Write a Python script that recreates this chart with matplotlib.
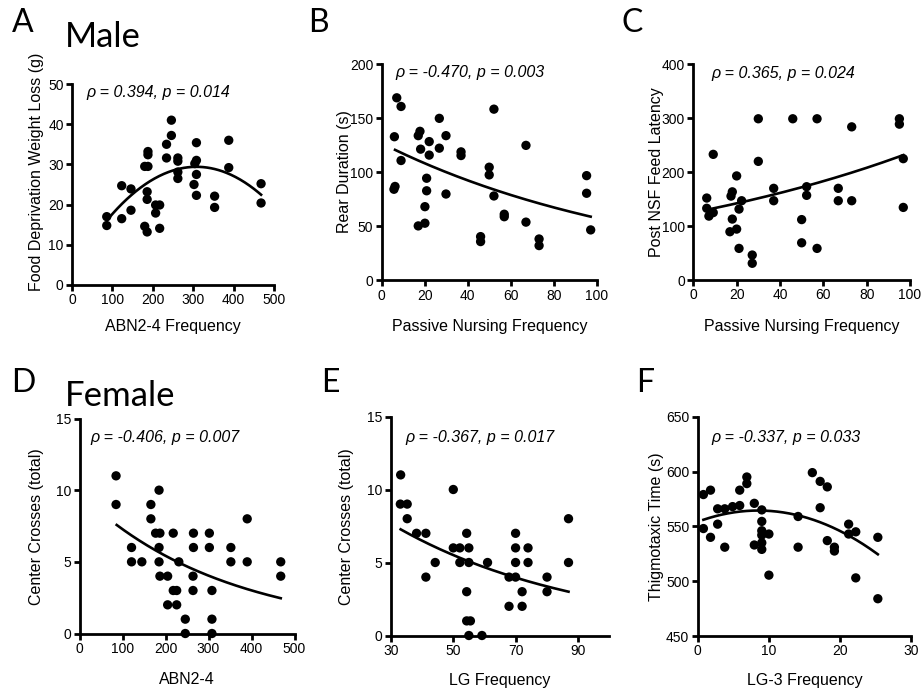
import numpy as np
import matplotlib
matplotlib.use('Agg')
import matplotlib.pyplot as plt

plt.rcParams['font.family'] = ['Liberation Sans', 'DejaVu Sans']

W, H = 924, 694

# ---- data ----
# A: male, ABN2-4 frequency vs food deprivation weight loss
a_x = [86, 86, 123, 123, 146, 146, 180, 188, 188, 188, 186, 186, 180, 186, 207, 217, 207, 217,
       246, 246, 234, 234, 262, 262, 262, 262, 308, 308, 304, 308, 302, 308, 353, 353, 388, 388, 468, 468]
a_y = [17, 14.8, 16.5, 24.7, 23.9, 18.6, 29.5, 29.5, 33.2, 32.4, 23.2, 21.3, 14.6, 13.2, 19.9, 19.9, 17.9, 14.1,
       41, 37.2, 35, 31.6, 31.6, 30.8, 28.1, 26.5, 35.4, 31, 30.2, 27.5, 25, 22.3, 22.1, 19.3, 36, 29.2, 25.2, 20.4]
a_fit = (-2.71e-4, 308, 29.4)      # quadratic: a, vertex x, vertex y
a_fit_range = (88, 468)

# B: passive nursing vs rear duration
b_x = [7, 9, 5.9, 9, 6.2, 5.7, 17.8, 17, 18.1, 22.1, 22.1, 26.8, 26.8, 29.9, 29.9, 20.9, 20.9, 20.1, 20.1,
       17, 36.9, 36.9, 46, 46, 50, 50, 52.2, 52.2, 57, 57, 67.1, 67.1, 73.2, 73.2, 95.3, 95.3, 97.2]
b_y = [169, 161, 133, 111, 87, 84.4, 138, 134, 121.5, 128.5, 116, 150, 122.4, 134, 80, 94.6, 83, 68.3, 53,
       50.5, 119, 115.6, 40.6, 36, 104.8, 97.7, 158.5, 78.2, 61.3, 59, 125, 54, 38.4, 32.3, 97, 80.7, 46.8]
b_fit = (126.9, -0.00787)          # exponential: A, k
b_fit_range = (6.2, 97.2)

# C: passive nursing vs post NSF feed latency
c_x = [30, 45.9, 57.1, 95.1, 95.1, 73.1, 9.2, 30, 96.9, 20, 6.2, 6.2, 7.2, 9.2, 18, 17.4, 22.3, 21.1,
       18, 20, 16.9, 21.1, 27.2, 27.2, 37.1, 37.1, 52.3, 52.3, 50, 50, 57.1, 66.9, 66.9, 73.1, 96.9]
c_y = [299, 299, 299, 299, 289, 284, 233, 220, 225, 193, 152, 133, 118.5, 125, 163.5, 155.6, 147, 131.5,
       113, 94.4, 89.5, 58.6, 46.3, 31, 170, 147, 173, 157, 112, 69, 58.6, 170, 147, 147, 134.6]
c_fit = (125.2, 0.00635)
c_fit_range = (7.7, 96.9)

# D: female, ABN2-4 vs center crosses
d_x = [85, 85, 121, 121, 145, 166, 166, 185, 177, 187, 185, 185, 187, 205, 218, 205, 218, 226, 226, 231,
       246, 246, 265, 265, 264, 264, 302, 302, 308, 308, 308, 352, 352, 390, 390, 468, 468]
d_y = [11, 9, 6, 5, 5, 9, 8, 10, 7, 7, 6, 5, 4, 4, 7, 2, 3, 3, 2, 5,
       1, 0, 7, 6, 4, 3, 7, 6, 3, 1, 0, 6, 5, 8, 5, 5, 4]
d_fit = (9.77, -0.002946)
d_fit_range = (86.5, 468)

# E: female, LG frequency vs center crosses
e_x = [33.1, 33, 35.2, 35.2, 38.2, 41.2, 41.2, 44.2, 50, 50, 52.1, 52.1, 54.3, 55, 55, 54.3, 54.3, 55.5,
       55, 59.2, 61, 67.9, 67.9, 70, 70, 70, 70, 72.1, 72.1, 74, 74, 80.1, 80.1, 87, 87]
e_y = [11, 9, 9, 8, 7, 7, 4, 5, 10, 6, 6, 5, 7, 6, 5, 3, 1, 1,
       0, 0, 5, 4, 2, 7, 6, 5, 4, 3, 2, 6, 5, 4, 3, 8, 5]
e_fit = (12.52, -0.01642)
e_fit_range = (33.1, 87)

# F: female, LG-3 frequency vs thigmotaxic time
f_x = [0.8, 0.8, 1.8, 1.8, 2.8, 2.8, 3.8, 3.8, 4.9, 5.9, 5.9, 6.9, 6.9, 7.95, 7.95, 9, 9, 9, 9, 9, 9,
       10, 10, 14.1, 14.1, 16.1, 17.2, 18.2, 17.2, 18.2, 19.2, 19.2, 21.2, 21.2, 22.2, 22.2, 25.3, 25.3]
f_y = [579, 548, 583, 540, 566, 552, 566, 531, 568, 569, 583, 595, 589, 571, 533, 565, 554.5, 546, 542, 535, 529,
       543, 505.5, 559, 531, 599, 591, 586, 567, 537, 531, 527.5, 552, 543, 545, 503, 540, 484]
f_fit = (-0.14166, 2.412, 554.16)  # quadratic: a, b, c
f_fit_range = (0.8, 25.3)


def quad_vertex(x, p):
    return p[2] + p[0] * (x - p[1]) ** 2

def expo(x, p):
    return p[0] * np.exp(p[1] * x)

def quad(x, p):
    return p[0] * x ** 2 + p[1] * x + p[2]


panels = [
    # letter, box (left, top, right, bottom in px), x, y, fit, fitfun, range, xlim, xticks, ylim, yticks, xlabel, ylabel, stats
    ('A', (72, 84, 274, 285), a_x, a_y, a_fit, quad_vertex, a_fit_range, (0, 500), range(0, 501, 100),
     (0, 50), range(0, 51, 10), 'ABN2-4 Frequency', 'Food Deprivation Weight Loss (g)',
     '\u03c1 = 0.394, p = 0.014', (86, 97)),
    ('B', (381.7, 64.3, 596.7, 280.5), b_x, b_y, b_fit, expo, b_fit_range, (0, 100), range(0, 101, 20),
     (0, 200), range(0, 201, 50), 'Passive Nursing Frequency', 'Rear Duration (s)',
     '\u03c1 = -0.470, p = 0.003', (395, 77)),
    ('C', (693.3, 64.3, 910, 280), c_x, c_y, c_fit, expo, c_fit_range, (0, 100), range(0, 101, 20),
     (0, 400), range(0, 401, 100), 'Passive Nursing Frequency', 'Post NSF Feed Latency',
     '\u03c1 = 0.365, p = 0.024', (711, 78)),
    ('D', (79.5, 418.5, 294.5, 633.5), d_x, d_y, d_fit, expo, d_fit_range, (0, 500), range(0, 501, 100),
     (0, 15), range(0, 16, 5), 'ABN2-4', 'Center Crosses (total)',
     '\u03c1 = -0.406, p = 0.007', (90, 442)),
    ('E', (391, 416.5, 609, 635.5), e_x, e_y, e_fit, expo, e_fit_range, (30, 100), range(30, 91, 20),
     (0, 15), range(0, 16, 5), 'LG Frequency', 'Center Crosses (total)',
     '\u03c1 = -0.367, p = 0.017', (405, 442)),
    ('F', (697.7, 416.7, 911.3, 636), f_x, f_y, f_fit, quad, f_fit_range, (0, 30), range(0, 31, 10),
     (450, 650), range(450, 651, 50), 'LG-3 Frequency', 'Thigmotaxic Time (s)',
     '\u03c1 = -0.337, p = 0.033', (711, 442)),
]

# label positions in px (centre)
letter_pos = {'A': (23, 23), 'B': (318, 23), 'C': (632, 23), 'D': (23, 383), 'E': (330, 383), 'F': (645, 383)}
xlabel_pos = {'A': (173, 327), 'B': (490, 327), 'C': (802, 327), 'D': (187, 680), 'E': (500, 680), 'F': (805, 680)}
ylabel_pos = {'A': (37, 172), 'B': (344, 172), 'C': (656, 172), 'D': (37, 527), 'E': (347, 527), 'F': (657, 527)}

fig = plt.figure(figsize=(W / 100, H / 100), dpi=100)


def fx(px):
    return px / W

def fy(py):
    return 1 - py / H


for (letter, box, x, y, fit, fun, rng, xlim, xticks, ylim, yticks,
     xlabel, ylabel, stats, spos) in panels:
    l, t, r, b = box
    ax = fig.add_axes([fx(l), fy(b), (r - l) / W, (b - t) / H])
    ax.scatter(x, y, s=45, c='black', edgecolors='none', clip_on=False, zorder=3)
    xx = np.linspace(rng[0], rng[1], 200)
    ax.plot(xx, fun(xx, fit), color='black', lw=1.9, zorder=2)
    ax.set_xlim(*xlim)
    ax.set_ylim(*ylim)
    ax.set_xticks(list(xticks))
    ax.set_yticks(list(yticks))
    for s in ('top', 'right'):
        ax.spines[s].set_visible(False)
    for s in ('left', 'bottom'):
        ax.spines[s].set_linewidth(2.0)
    ax.tick_params(width=2.0, length=4.5, labelsize=10, pad=1.5)
    fig.text(fx(spos[0]), fy(spos[1]), stats, fontsize=11.5, style='italic',
             ha='left', va='baseline')
    fig.text(fx(xlabel_pos[letter][0]), fy(xlabel_pos[letter][1]), xlabel,
             fontsize=11.5, ha='center', va='center')
    fig.text(fx(ylabel_pos[letter][0]), fy(ylabel_pos[letter][1]), ylabel,
             fontsize=11.5, ha='center', va='center', rotation=90)
    fig.text(fx(letter_pos[letter][0]), fy(letter_pos[letter][1]), letter,
             fontsize=23, family='Lato', ha='center', va='center')

fig.text(fx(65), fy(47), 'Male', fontsize=25, family='Lato', ha='left', va='baseline')
fig.text(fx(65), fy(406), 'Female', fontsize=25, family='Lato', ha='left', va='baseline')

fig.savefig('out.png', dpi=100)
